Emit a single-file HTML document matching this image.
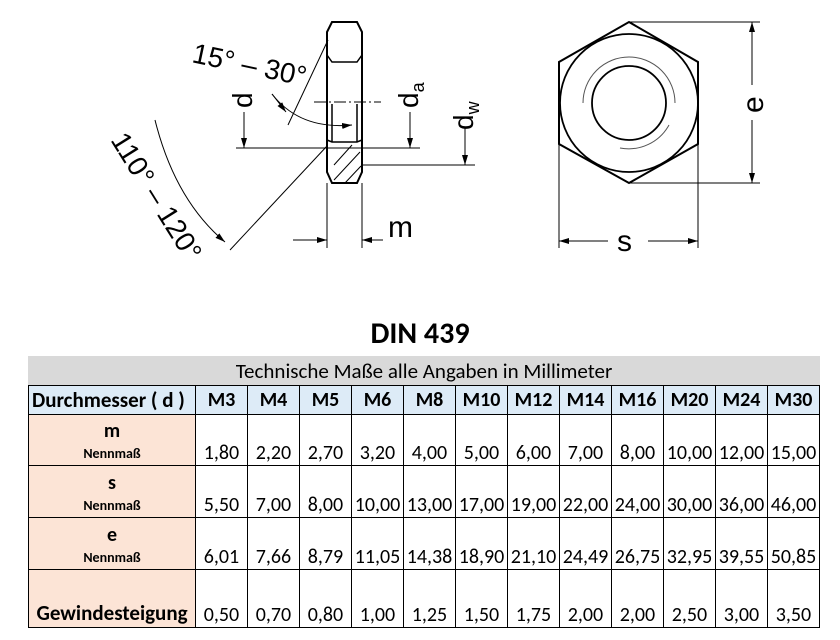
<!DOCTYPE html>
<html><head><meta charset="utf-8"><style>
html,body{margin:0;padding:0;background:#fff;width:840px;height:640px;overflow:hidden;position:relative;font-family:"Carlito","Liberation Sans",sans-serif}
svg{position:absolute;left:0;top:0}
.title{position:absolute;left:0;width:840px;top:316px;text-align:center;font-weight:bold;font-size:30px;line-height:36px}
.band{position:absolute;left:28px;top:356px;width:792px;height:29px;background:#d9d9d9;text-align:center;font-size:21px;line-height:31px}
table{position:absolute;left:28px;top:385px;border-collapse:collapse;table-layout:fixed}
td{border:1.5px solid #000;padding:0;font-size:20px;text-align:center;vertical-align:bottom;overflow:hidden;white-space:nowrap;line-height:24px}
tr.h td{background:#ddebf7;font-weight:bold;height:28px;vertical-align:middle;font-size:20px}
td.l{background:#fce4d6;font-weight:bold;position:relative}
.big{display:block;font-size:20px;line-height:24px}
.sm{display:block;font-size:14px;line-height:22px}
</style></head><body>
<svg width="840" height="300" viewBox="0 0 840 300" fill="none" stroke="#000">
<defs><marker id="a" markerWidth="10" markerHeight="6" refX="10" refY="3" orient="auto" markerUnits="userSpaceOnUse"><path d="M0,0L10,3L0,6z" fill="#000" stroke="none"/></marker></defs>
<path d="M332,22 L357,22 L362,32 L362,172 L357,183 L332,183 L327,172 L327,32 Z" stroke-width="2"/>
<path d="M327,55 L332,62 L357,62 L362,55" stroke-width="1.5"/>
<path d="M327,140 L332,142 L357,142 L362,140" stroke-width="1.5"/>
<line x1="332" y1="104" x2="332" y2="142" stroke-width="1.5"/>
<line x1="357" y1="104" x2="357" y2="142" stroke-width="1.5"/>
<line x1="314" y1="102" x2="381" y2="102" stroke-dasharray="12,3,2,3" stroke-width="1"/>
<g stroke-width="1"><line x1="334" y1="165" x2="352" y2="145"/><line x1="334" y1="180" x2="360" y2="152"/><line x1="345" y1="183" x2="361" y2="166"/></g>
<g stroke-width="1">
<line x1="236" y1="148" x2="420" y2="148"/>
<line x1="244" y1="112" x2="244" y2="148" marker-end="url(#a)"/>
<line x1="410" y1="112" x2="410" y2="148" marker-end="url(#a)"/>
<line x1="362" y1="165" x2="475" y2="165"/>
<line x1="465" y1="128" x2="465" y2="165" marker-end="url(#a)"/>
<line x1="327" y1="183" x2="327" y2="248"/><line x1="362" y1="183" x2="362" y2="248"/>
<line x1="293" y1="240" x2="327" y2="240" marker-end="url(#a)"/>
<line x1="383" y1="240" x2="362" y2="240" marker-end="url(#a)"/>
<line x1="328" y1="40" x2="288" y2="125"/>
<path d="M272,94 Q300,130 352,125" marker-end="url(#a)"/>
<line x1="272" y1="94" x2="286" y2="112" marker-end="url(#a)"/>
<line x1="327" y1="146" x2="230" y2="250"/>
<path d="M155,120 Q175,200 225,242" marker-end="url(#a)"/>
</g>
<polygon points="629,22 698,62 698,144 629,183 559,144 559,62" stroke-width="2"/>
<circle cx="629" cy="103" r="69" stroke-width="1.8"/>
<circle cx="629" cy="103" r="37" stroke-width="1.8"/>
<path d="M583,103 A46,46 0 0 1 675,103 M669,125 A46,46 0 0 1 620,148" stroke-width="1" stroke="#555"/>
<g stroke-width="1">
<line x1="629" y1="22" x2="760" y2="22"/><line x1="629" y1="183" x2="760" y2="183"/>
<line x1="752" y1="85" x2="752" y2="22" marker-end="url(#a)"/>
<line x1="752" y1="120" x2="752" y2="183" marker-end="url(#a)"/>
<line x1="559" y1="144" x2="559" y2="248"/><line x1="698" y1="144" x2="698" y2="248"/>
<line x1="608" y1="241" x2="559" y2="241" marker-end="url(#a)"/>
<line x1="648" y1="241" x2="698" y2="241" marker-end="url(#a)"/>
</g>
<g fill="#000" stroke="none" font-family="Liberation Sans,sans-serif" font-size="28">
<text x="191" y="62" transform="rotate(12 191 62)">15° – 30°</text>
<text x="110" y="140" transform="rotate(58 110 140)">110° – 120°</text>
<text x="388" y="237" font-size="30">m</text>
<text x="617" y="251" font-size="30">s</text>
<text x="744" y="103" transform="rotate(-90 744 103) translate(-10,19)" font-size="30">e</text>
<text x="234" y="100" transform="rotate(-90 234 100) translate(-8,18)">d</text>
<text x="400" y="100" transform="rotate(-90 400 100) translate(-8,18)">d<tspan font-size="18" dy="6">a</tspan></text>
<text x="455" y="122" transform="rotate(-90 455 122) translate(-8,18)">d<tspan font-size="18" dy="6">w</tspan></text>
</g>
</svg>
<div class="title">DIN 439</div>
<div class="band">Technische Maße alle Angaben in Millimeter</div>
<table>
<colgroup><col style="width:167px"><col span="12" style="width:52px"></colgroup>
<tr class="h"><td style="text-align:left;padding-left:3px;font-size:21px">Durchmesser ( d )</td><td>M3</td><td>M4</td><td>M5</td><td>M6</td><td>M8</td><td>M10</td><td>M12</td><td>M14</td><td>M16</td><td>M20</td><td>M24</td><td>M30</td></tr>
<tr style="height:51px"><td class="l"><span class="big">m</span><span class="sm">Nennmaß</span></td><td>1,80</td><td>2,20</td><td>2,70</td><td>3,20</td><td>4,00</td><td>5,00</td><td>6,00</td><td>7,00</td><td>8,00</td><td>10,00</td><td>12,00</td><td>15,00</td></tr>
<tr style="height:52px"><td class="l"><span class="big">s</span><span class="sm">Nennmaß</span></td><td>5,50</td><td>7,00</td><td>8,00</td><td>10,00</td><td>13,00</td><td>17,00</td><td>19,00</td><td>22,00</td><td>24,00</td><td>30,00</td><td>36,00</td><td>46,00</td></tr>
<tr style="height:52px"><td class="l"><span class="big">e</span><span class="sm">Nennmaß</span></td><td>6,01</td><td>7,66</td><td>8,79</td><td>11,05</td><td>14,38</td><td>18,90</td><td>21,10</td><td>24,49</td><td>26,75</td><td>32,95</td><td>39,55</td><td>50,85</td></tr>
<tr style="height:58px"><td class="l" style="font-size:21px;line-height:28px">Gewindesteigung</td><td>0,50</td><td>0,70</td><td>0,80</td><td>1,00</td><td>1,25</td><td>1,50</td><td>1,75</td><td>2,00</td><td>2,00</td><td>2,50</td><td>3,00</td><td>3,50</td></tr>
</table>
</body></html>
